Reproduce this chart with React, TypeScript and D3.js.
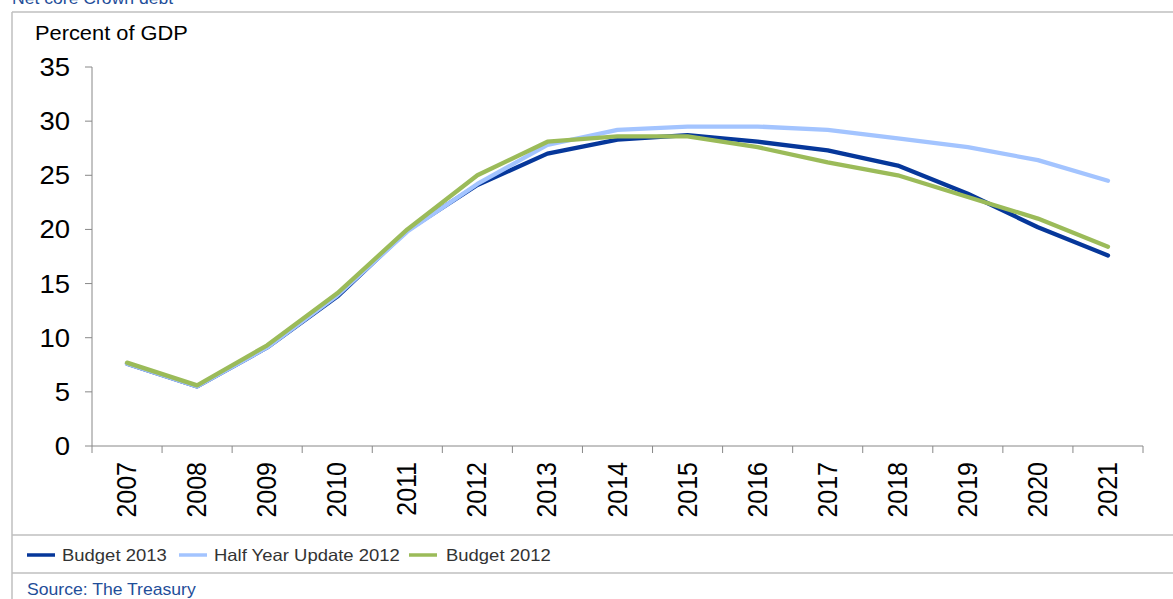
import React from "react";
import * as d3 from "d3";

const years = ["2007","2008","2009","2010","2011","2012","2013","2014","2015","2016","2017","2018","2019","2020","2021"];
const budget2013 = [7.6, 5.5, 9.1, 13.8, 19.9, 24.1, 27.0, 28.3, 28.7, 28.1, 27.3, 25.9, 23.3, 20.2, 17.6];
const halfYear2012 = [7.6, 5.5, 9.1, 13.9, 19.8, 24.2, 27.8, 29.2, 29.5, 29.5, 29.2, 28.4, 27.6, 26.4, 24.5];
const budget2012 = [7.7, 5.6, 9.3, 14.1, 20.0, 25.0, 28.1, 28.6, 28.6, 27.6, 26.2, 25.0, 23.0, 21.0, 18.4];
const yTicks = [0, 5, 10, 15, 20, 25, 30, 35];

const seriesNames = ["Budget 2013", "Half Year Update 2012", "Budget 2012"];
const seriesColors = ["#06379A", "#A3C4FF", "#9BBB59"];
const seriesData = [budget2013, halfYear2012, budget2012];

const W = 1173, H = 599;
const FONT = "'Liberation Sans', Arial, sans-serif";
const SX = 1.1;

export default function App() {
  const x = d3.scaleBand<string>().domain(years).range([92, 1143]).padding(0);
  const y = d3.scaleLinear().domain([0, 35]).range([446, 67]);
  const line = d3.line<number>()
    .x((_, i) => (x(years[i]) as number) + x.bandwidth() / 2)
    .y((d) => y(d));

  const legendItems = [
    { lx: 27, tx: 62 },
    { lx: 179, tx: 214 },
    { lx: 409, tx: 446 },
  ];

  return (
    <div style={{ position: "absolute", left: 0, top: 0 }}>
      <svg width={W} height={H} style={{ display: "block", background: "#fff" }}>
        {/* frame */}
        <line x1={12} y1={12} x2={W} y2={12} stroke="#BFBFBF" strokeWidth={1.5} />
        <line x1={12} y1={12} x2={12} y2={H} stroke="#BFBFBF" strokeWidth={1.5} />
        <line x1={12} y1={535} x2={W} y2={535} stroke="#BFBFBF" strokeWidth={1.5} />
        <line x1={12} y1={573} x2={W} y2={573} stroke="#BFBFBF" strokeWidth={1.5} />

        {/* title (cut at top edge, as in the reference) */}
        <text transform={`translate(12,4) scale(${SX},1)`} fontFamily={FONT} fontSize={16} fill="#1F4E99">Net core Crown debt</text>

        {/* y label */}
        <text transform={`translate(35,40) scale(1.12,1)`} fontFamily={FONT} fontSize={19.5} fill="#000">Percent of GDP</text>

        {/* y axis */}
        <line x1={92} y1={y(0)} x2={92} y2={y(35)} stroke="#888" strokeWidth={1} />
        {yTicks.map((t) => (
          <g key={t}>
            <line x1={85} x2={92} y1={y(t)} y2={y(t)} stroke="#888" strokeWidth={1} />
            <text transform={`translate(70,${y(t) + 9}) scale(${SX},1)`} textAnchor="end" fontFamily={FONT} fontSize={25} fill="#000">{t}</text>
          </g>
        ))}

        {/* x axis */}
        <line x1={92} x2={1143} y1={y(0)} y2={y(0)} stroke="#888" strokeWidth={1} />
        {years.map((yr) => (
          <line key={"t" + yr} x1={x(yr) as number} x2={x(yr) as number} y1={y(0)} y2={y(0) + 7} stroke="#888" strokeWidth={1} />
        ))}
        <line x1={1143} x2={1143} y1={y(0)} y2={y(0) + 7} stroke="#888" strokeWidth={1} />
        {years.map((yr) => {
          const cx = (x(yr) as number) + x.bandwidth() / 2;
          return (
            <text key={"l" + yr} transform={`translate(${cx + 9},462) scale(${SX},1) rotate(-90)`} textAnchor="end" fontFamily={FONT} fontSize={25} fill="#000">{yr}</text>
          );
        })}

        {/* lines */}
        {seriesData.map((d, i) => (
          <path key={seriesNames[i]} d={line(d) || ""} fill="none" stroke={seriesColors[i]} strokeWidth={4.3} strokeLinejoin="round" strokeLinecap="round" />
        ))}

        {/* legend */}
        {seriesNames.map((n, i) => (
          <g key={"lg" + n}>
            <line x1={legendItems[i].lx} x2={legendItems[i].lx + 28} y1={555} y2={555} stroke={seriesColors[i]} strokeWidth={3.5} />
            <text transform={`translate(${legendItems[i].tx},561) scale(1.12,1)`} fontFamily={FONT} fontSize={16.5} fill="#333">{n}</text>
          </g>
        ))}

        {/* source */}
        <text transform={`translate(27,595) scale(${SX},1)`} fontFamily={FONT} fontSize={16} fill="#1F4E99">Source: The Treasury</text>
      </svg>
    </div>
  );
}
